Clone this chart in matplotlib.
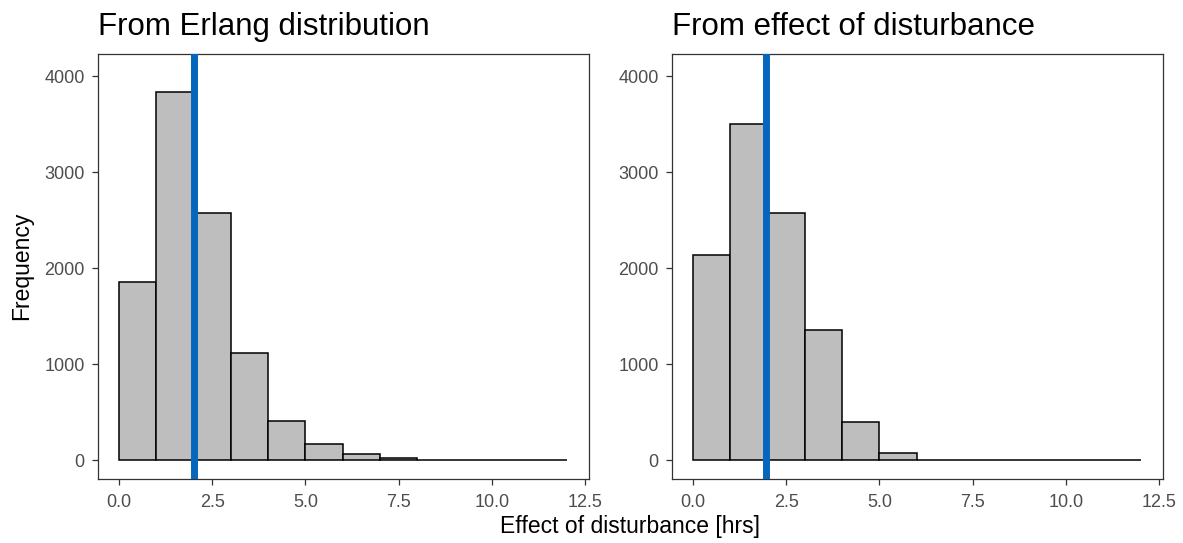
import matplotlib
matplotlib.use("Agg")
import matplotlib.pyplot as plt
import numpy as np

plt.rcParams['font.family'] = ['Liberation Sans', 'DejaVu Sans']

bin_edges = list(range(0, 13))
erlang_counts = [1855, 3834, 2570, 1119, 404, 166, 59, 20, 3, 1, 0, 0]
effect_counts = [2135, 3502, 2570, 1358, 394, 73, 0, 0, 0, 0, 0, 0]
erlang_mean = 2.00
effect_mean = 1.965
titles = ["From Erlang distribution", "From effect of disturbance"]
x_ticks = [0.0, 2.5, 5.0, 7.5, 10.0, 12.5]
y_ticks = [0, 1000, 2000, 3000, 4000]

W, H = 1183, 543
fig = plt.figure(figsize=(W / 100, H / 100), dpi=100)

panels = [(98, erlang_counts, erlang_mean, titles[0]),
          (672, effect_counts, effect_mean, titles[1])]
for left_px, counts, mean, title in panels:
    ax = fig.add_axes([left_px / W, (H - 479) / H, 491 / W, (479 - 54) / H])
    edges = np.array(bin_edges, dtype=float)
    ax.bar(edges[:-1], counts, width=np.diff(edges), align='edge',
           color='#BEBEBE', edgecolor='black', linewidth=1.1, zorder=2)
    ax.axvline(mean, color='#0566BD', linewidth=5, zorder=3)
    ax.set_xlim(-0.56, 12.6)
    ax.set_ylim(-197, 4230)
    ax.set_xticks(x_ticks)
    ax.set_xticklabels([f"{t:.1f}" for t in x_ticks])
    ax.set_yticks(y_ticks)
    ax.set_yticklabels([str(t) for t in y_ticks])
    for s in ax.spines.values():
        s.set_color('#333333')
        s.set_linewidth(0.9)
    ax.tick_params(axis='both', colors='#333333', labelcolor='#4D4D4D',
                   labelsize=13, length=4.5, width=0.9)
    ax.tick_params(axis='x', pad=6)
    ax.tick_params(axis='y', pad=5)
    ax.set_title(title, loc='left', fontsize=22.5, pad=13.5, color='black')

fig.text(630.5 / W, (H - 533) / H, "Effect of disturbance [hrs]",
         ha='center', va='baseline', fontsize=16.5)
fig.text(22 / W, (H - 266) / H, "Frequency", rotation=90,
         ha='center', va='center', fontsize=16.5)

fig.savefig("out.png", dpi=100)
